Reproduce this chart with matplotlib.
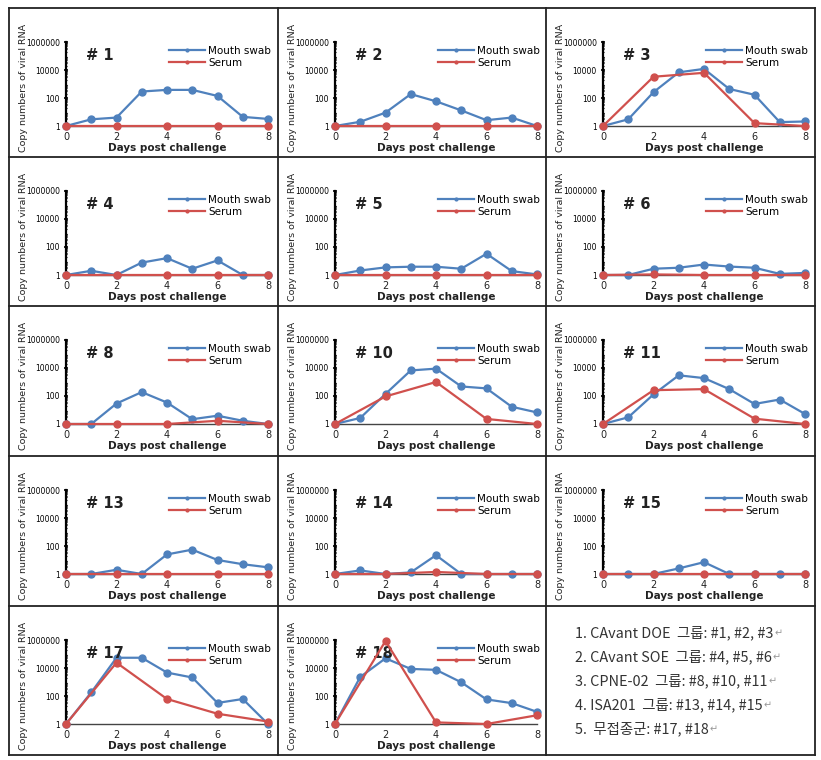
import matplotlib
matplotlib.use("Agg")
import matplotlib.pyplot as plt
from matplotlib.lines import Line2D
from matplotlib.ticker import LogLocator, FixedLocator, FixedFormatter, NullFormatter

# ---- data -------------------------------------------------------------
days_mouth = [0, 1, 2, 3, 4, 5, 6, 7, 8]
days_serum = [0, 2, 4, 6, 8]

panel_ids = ["1", "2", "3", "4", "5", "6", "8", "10", "11",
             "13", "14", "15", "17", "18"]

mouth_1 = [1, 3, 4, 290, 380, 380, 140, 4.5, 3.2]
serum_1 = [1, 1, 1, 1, 1]
mouth_2 = [1, 2, 9, 190, 58, 13, 2.6, 4, 1]
serum_2 = [1, 1, 1, 1, 1]
mouth_3 = [1, 3, 260, 6800, 12000, 440, 170, 1.9, 2.1]
serum_3 = [1, 3300, 6300, 1.6, 1]
mouth_4 = [1, 2, 1, 7.7, 16, 2.8, 11, 1, 1]
serum_4 = [1, 1, 1, 1, 1]
mouth_5 = [1, 2.1, 3.5, 3.9, 3.9, 2.8, 33, 1.9, 1.1]
serum_5 = [1, 1, 1, 1, 1]
mouth_6 = [1, 1, 2.8, 3.3, 5.6, 4, 3.3, 1.2, 1.4]
serum_6 = [1, 1.1, 1, 1, 1]
mouth_8 = [1, 1, 29, 190, 34, 2.2, 3.9, 1.7, 1]
serum_8 = [1, 1, 1, 1.7, 1]
mouth_10 = [1, 2.7, 140, 6700, 9000, 480, 350, 17, 6.7]
serum_10 = [1, 93, 1000, 2.3, 1]
mouth_11 = [1, 3, 130, 3000, 1900, 310, 27, 56, 5.2]
serum_11 = [1, 260, 310, 2.4, 1]
mouth_13 = [1, 1, 2, 1, 25, 55, 10, 5, 3]
serum_13 = [1, 1, 1, 1, 1]
mouth_14 = [1, 1.8, 1, 1.3, 22, 1, 1, 1, 1]
serum_14 = [1, 1, 1.4, 1, 1]
mouth_15 = [1, 1, 1, 2.5, 7, 1, 1, 1, 1]
serum_15 = [1, 1, 1, 1, 1]
mouth_17 = [1, 180, 54000, 54000, 4700, 2100, 32, 61, 1]
serum_17 = [1, 24000, 61, 5.4, 1.5]
mouth_18 = [1, 2300, 49000, 8600, 7400, 950, 57, 31, 7.4]
serum_18 = [1, 850000, 1.3, 1, 4.2]

mouth_all = [mouth_1, mouth_2, mouth_3, mouth_4, mouth_5, mouth_6, mouth_8,
             mouth_10, mouth_11, mouth_13, mouth_14, mouth_15, mouth_17, mouth_18]
serum_all = [serum_1, serum_2, serum_3, serum_4, serum_5, serum_6, serum_8,
             serum_10, serum_11, serum_13, serum_14, serum_15, serum_17, serum_18]

y_ticks = [1, 100, 10000, 1000000]
y_tick_labels = ["1", "100", "10000", "1000000"]
x_ticks = [0, 2, 4, 6, 8]

group_lines = [
    "1. CAvant DOE  그룹: #1, #2, #3",
    "2. CAvant SOE  그룹: #4, #5, #6",
    "3. CPNE-02  그룹: #8, #10, #11",
    "4. ISA201  그룹: #13, #14, #15",
    "5.  무접종군: #17, #18",
]

BLUE = "#4f81bd"
RED = "#d0504d"

# ---- layout (pixels) --------------------------------------------------
W, H = 821, 760
col_x = [9, 278, 546, 815]
row_y = [8, 157, 306, 456, 606, 755]

fig = plt.figure(figsize=(W / 100, H / 100), dpi=100)


def fx(px):
    return px / W


def fy(py):
    return 1 - py / H


# grid borders
for x in col_x:
    fig.add_artist(Line2D([fx(x), fx(x)], [fy(row_y[0]), fy(row_y[-1])],
                          color="#222222", lw=1.3))
for y in row_y:
    fig.add_artist(Line2D([fx(col_x[0]), fx(col_x[-1])], [fy(y), fy(y)],
                          color="#222222", lw=1.3))

for i, pid in enumerate(panel_ids):
    r, c = divmod(i, 3)
    left = col_x[c] + 57
    top = row_y[r] + 34
    ax = fig.add_axes([fx(left), fy(top + 84), fx(202), 84 / H])

    ax.plot(days_mouth, mouth_all[i], color=BLUE, lw=1.6, marker="o", ms=5,
            label="Mouth swab", clip_on=False, zorder=3)
    ax.plot(days_serum, serum_all[i], color=RED, lw=1.6, marker="o", ms=5,
            label="Serum", clip_on=False, zorder=4)

    ax.set_yscale("log")
    ax.set_ylim(1, 1e6)
    ax.set_xlim(0, 8)
    ax.yaxis.set_major_locator(FixedLocator(y_ticks))
    ax.yaxis.set_major_formatter(FixedFormatter(y_tick_labels))
    ax.yaxis.set_minor_locator(LogLocator(base=10, subs=range(2, 10), numticks=20))
    ax.yaxis.set_minor_formatter(NullFormatter())
    ax.set_xticks(x_ticks)

    ax.tick_params(axis="y", which="major", labelsize=5.5, length=3, width=1.2,
                   direction="inout", pad=3, colors="black")
    ax.tick_params(axis="y", which="minor", length=2, width=0.8, direction="inout")
    ax.tick_params(axis="x", length=0, labelsize=7, pad=4, labelcolor="#222222")

    for s in ["top", "right"]:
        ax.spines[s].set_visible(False)
    ax.spines["left"].set_linewidth(1.6)
    ax.spines["left"].set_color("black")
    ax.spines["bottom"].set_color("#444444")
    ax.spines["bottom"].set_linewidth(1.0)
    ax.patch.set_alpha(0)

    ax.set_xlabel("Days post challenge", fontsize=7.5, fontweight="semibold",
                  color="#222222", labelpad=1)
    ax.set_ylabel("Copy numbers of viral RNA", fontsize=6.8, color="#222222")
    ax.yaxis.set_label_coords(-0.19, 0.45)
    ax.text(0.1, 0.93, "# " + pid, transform=ax.transAxes, fontsize=10.5,
            fontweight="bold", va="top", ha="left", color="#222222")

    ax.legend(loc="upper right", bbox_to_anchor=(1.05, 1.04), fontsize=7.5,
              frameon=False, markerscale=0.4, handlelength=3.4,
              handletextpad=0.3, labelspacing=0.2, borderpad=0.2)

# legend text cell
text_y = [633, 657, 681, 705, 729]
fig.canvas.draw()
renderer = fig.canvas.get_renderer()
for line, ty in zip(group_lines, text_y):
    t = fig.text(fx(575), fy(ty), line, fontsize=10.4, va="center", ha="left",
                 color="#333333", family=["Noto Sans CJK KR", "DejaVu Sans"])
    bb = t.get_window_extent(renderer)
    fig.text(fx(bb.x1 + 1), fy(ty), "↵", fontsize=7, va="center", ha="left",
             color="#999999", family=["DejaVu Sans"])

fig.savefig("out.png", dpi=100)
